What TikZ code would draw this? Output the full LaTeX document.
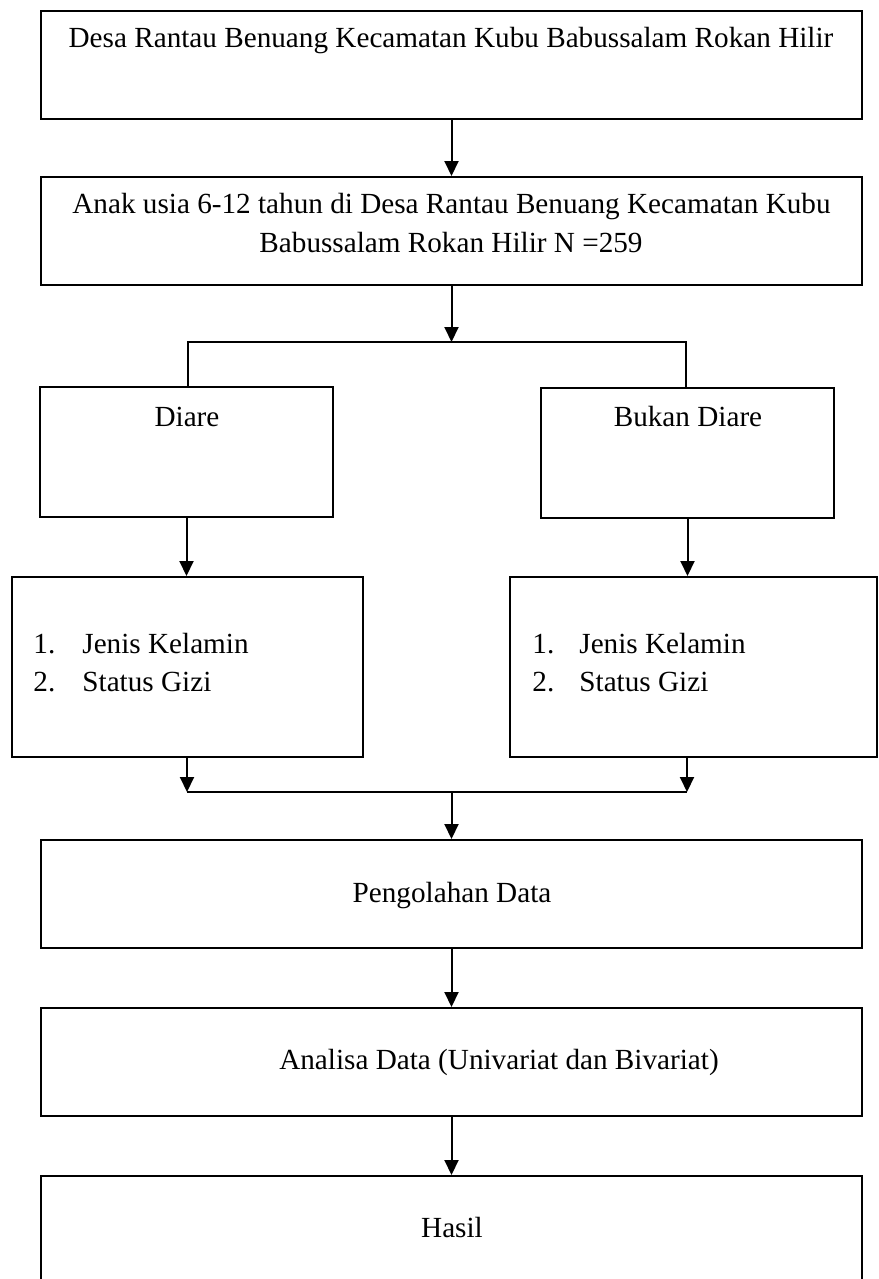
\documentclass[tikz,border=0pt]{standalone}
\usepackage{fontspec}
\setmainfont{Liberation Serif}
\usetikzlibrary{arrows.meta}
\begin{document}
\begin{tikzpicture}[x=0.5pt,y=-0.5pt,
  box/.style 2 args={draw, line width=1pt, rectangle, inner sep=0pt, minimum width=#1, minimum height=#2},
  txt/.style={inner sep=0pt, anchor=base, font=\fontsize{14.6pt}{19pt}\selectfont},
  ltxt/.style={inner sep=0pt, anchor=base west, font=\fontsize{14.6pt}{19pt}\selectfont},
  conn/.style={line width=1pt},
  arr/.style={line width=1pt, -{Triangle[length=7.5pt,width=7pt]}}]
\useasboundingbox (0,0) rectangle (878,1279);
% boxes
\node[box={410.5pt}{54pt}] (b1) at (451.5,65) {};
\node[box={410.5pt}{54pt}] (b2) at (451.5,231) {};
\node[box={146.5pt}{65pt}] (diare) at (186.5,452) {};
\node[box={146.5pt}{65pt}] (bukan) at (687.5,452.5) {};
\node[box={175.5pt}{90pt}] (list1) at (187.5,667) {};
\node[box={183.5pt}{90pt}] (list2) at (693.5,667) {};
\node[box={410.5pt}{54pt}] (peng) at (451.5,894) {};
\node[box={410.5pt}{54pt}] (anal) at (451.5,1062) {};
\node[box={410.5pt}{54pt}] (hasil) at (451.5,1230) {};
% texts
\node[txt] (t1) at (451,48) {Desa Rantau Benuang Kecamatan Kubu Babussalam Rokan Hilir};
\node[txt] (t2a) at (451.5,213) {Anak usia 6-12 tahun di Desa Rantau Benuang Kecamatan Kubu};
\node[txt] (t2b) at (451,252) {Babussalam Rokan Hilir N =259};
\node[txt] (td) at (187,426) {Diare};
\node[txt] (tb) at (688,426) {Bukan Diare};
\node[ltxt] (n1a) at (33,653) {1.};
\node[ltxt] (l1a) at (82,653) {Jenis Kelamin};
\node[ltxt] (n1b) at (33,691) {2.};
\node[ltxt] (l1b) at (82,691) {Status Gizi};
\node[ltxt] (n2a) at (532,653) {1.};
\node[ltxt] (l2a) at (579,653) {Jenis Kelamin};
\node[ltxt] (n2b) at (532,691) {2.};
\node[ltxt] (l2b) at (579,691) {Status Gizi};
\node[txt] (tp) at (452,902) {Pengolahan Data};
\node[txt] (ta) at (499,1069) {Analisa Data (Univariat dan Bivariat)};
\node[txt] (th) at (452,1237) {Hasil};
% junctions
\coordinate (j1) at (451.5,342);
\coordinate (j1l) at (188,342);
\coordinate (j1r) at (686,342);
\coordinate (j2) at (451.5,792);
\coordinate (j2l) at (187,792);
\coordinate (j2r) at (687,792);
% connectors
\draw[arr] (b1.south) -- (b2.north);
\draw[arr] (b2.south) -- (j1);
\draw[conn] (diare.north -| j1l) -- (j1l) -- (j1r) -- (bukan.north -| j1r);
\draw[arr] (diare.south) -- (diare.south |- list1.north);
\draw[arr] (bukan.south) -- (bukan.south |- list2.north);
\draw[arr] (list1.south -| j2l) -- (j2l);
\draw[arr] (list2.south -| j2r) -- (j2r);
\draw[conn] (j2l) -- (j2r);
\draw[arr] (j2) -- (peng.north);
\draw[arr] (peng.south) -- (anal.north);
\draw[arr] (anal.south) -- (hasil.north);
\end{tikzpicture}
\end{document}
